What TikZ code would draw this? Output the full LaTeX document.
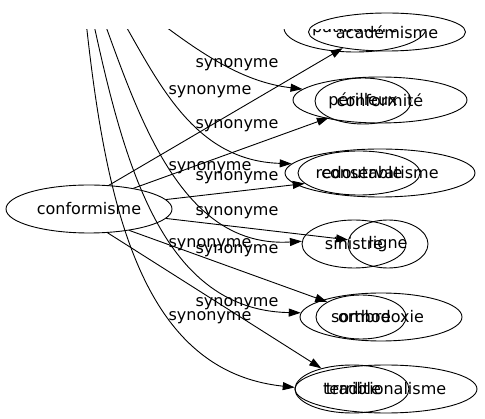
\documentclass[tikz,border=0pt]{standalone}
\usepackage{fontspec}
\setmainfont{DejaVu Sans}
\usetikzlibrary{shapes.geometric, arrows.meta}

\newcommand{\mot}[1]{\makebox[0pt]{#1}}

\begin{document}
\begin{tikzpicture}[x=1pt, y=-1pt,
        terme/.style={ellipse, draw, line width=0.9pt, inner sep=0pt, minimum width=#1, minimum height=48, font=\fontsize{16}{19}\selectfont},
        lien/.style={inner sep=0pt, font=\fontsize{16}{19}\selectfont},
        fleche/.style={-{Triangle[length=12pt, width=8pt]}, line width=0.9pt}
    ]
    \useasboundingbox (0,0) rectangle (485,419);

        % mots
        \node[terme=166] (conformisme) at (89,209) {\mot{conformisme}};
        \node[terme=157, minimum height=38] (academisme) at (387,32) {\mot{académisme}};
        \node[terme=174, minimum height=46] (conformite) at (380,100) {\mot{conformité}};
        \node[terme=96, minimum height=46] (perilleux) at (363,101) {\mot{périlleux}};
        \node[terme=190] (conservatisme) at (380,173) {\mot{conservatisme}};
        \node[terme=122, minimum height=44] (redoutable) at (359,173) {\mot{redoutable}};
        \node[terme=104] (sinistre) at (354,244) {\mot{sinistre}};
        \node[terme=80] (ligne) at (388,244) {\mot{ligne}};
        \node[terme=162] (orthodoxie) at (381,317) {\mot{orthodoxie}};
        \node[terme=90, minimum height=44] (sombre) at (361,317) {\mot{sombre}};
        \node[terme=182] (traditionalisme) at (386,389) {\mot{traditionalisme}};
        \node[terme=114] (terrible) at (352,389) {\mot{terrible}};

        % liens depuis conformisme
        \draw[fleche] (conformisme.50) -- (academisme.200);
        \draw[fleche] (conformisme.25) -- (perilleux.206);
        \draw[fleche] (conformisme.7) -- (redoutable.191);
        \draw[fleche] (conformisme.-7) -- (ligne.174);
        \draw[fleche] (conformisme.-28) -- (sombre.156);
        \draw[fleche] (conformisme.-52) -- (terrible.146);

        % liens venant du haut, coupes
        \coordinate (haut) at (80,-40);
        \begin{scope}
            \clip (0,30) rectangle (485,419);
            \node[terme=142] (patibulaire) at (355,28) {\mot{patibulaire}};
            \draw[fleche] (haut) .. controls (170,30) and (225,80) .. (conformite.172);
            \draw[fleche] (haut) .. controls (140,20) and (165,160) .. (conservatisme.174);
            \draw[fleche] (haut) .. controls (125,60) and (160,250) .. (sinistre.177);
            \draw[fleche] (haut) .. controls (115,120) and (145,310) .. (orthodoxie.177);
            \draw[fleche] (haut) .. controls (100,180) and (130,370) .. (traditionalisme.179);
        \end{scope}

        % etiquettes
        \node[lien] (syn1) at (237,65) {synonyme};
        \node[lien] (syn2) at (210,92) {synonyme};
        \node[lien] (syn3) at (237,126) {synonyme};
        \node[lien] (syn4) at (210,168) {synonyme};
        \node[lien] (syn5) at (237,178) {synonyme};
        \node[lien] (syn6) at (237,213) {synonyme};
        \node[lien] (syn7) at (210,245) {synonyme};
        \node[lien] (syn8) at (237,251) {synonyme};
        \node[lien] (syn9) at (237,304) {synonyme};
        \node[lien] (syn10) at (210,318) {synonyme};
    \end{tikzpicture}
\end{document}
